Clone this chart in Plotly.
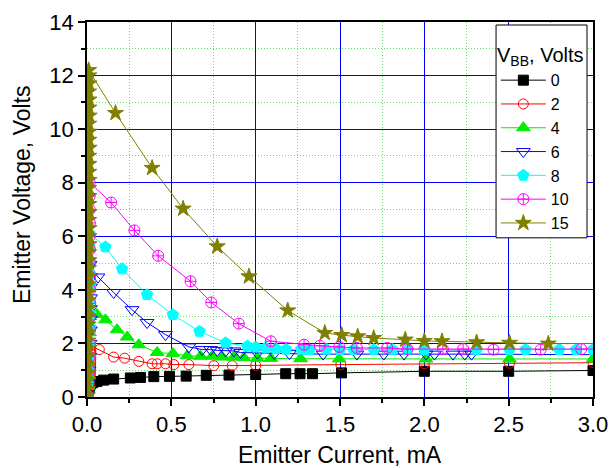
import plotly.graph_objects as go

# ---------------- data ----------------
legend_names = ["0", "2", "4", "6", "8", "10", "15"]

x_0 = [0.003, 0.006, 0.010, 0.015, 0.022, 0.035, 0.059, 0.099, 0.158, 0.257, 0.317, 0.396,
       0.489, 0.588, 0.707, 0.842, 1.0, 1.178, 1.263, 1.337, 1.509, 2.0, 2.5, 3.0]
y_0 = [0.05, 0.15, 0.28, 0.40, 0.48, 0.54, 0.58, 0.63, 0.67, 0.71, 0.73, 0.76,
       0.77, 0.78, 0.81, 0.82, 0.84, 0.87, 0.87, 0.87, 0.90, 0.96, 0.96, 0.99]

x_2 = [0.004, 0.008, 0.012, 0.015, 0.017, 0.018, 0.019, 0.020, 0.020, 0.021, 0.021, 0.022,
       0.022, 0.022, 0.023, 0.023, 0.023, 0.020, 0.012,
       0.073, 0.158, 0.223, 0.307, 0.386, 0.416, 0.465, 0.515, 0.604, 0.752, 0.861, 1.0,
       1.505, 2.0, 2.505, 3.0]
y_2 = [0.05, 0.2, 0.35, 0.5, 0.6, 0.7, 0.8, 0.9, 1.0, 1.1, 1.2, 1.3,
       1.4, 1.5, 1.6, 1.7, 1.8, 1.9, 1.95,
       1.77, 1.49, 1.45, 1.33, 1.24, 1.24, 1.24, 1.21, 1.21, 1.17, 1.17, 1.18,
       1.21, 1.24, 1.26, 1.28]

x_4 = [0.004, 0.008, 0.010, 0.012, 0.013, 0.014, 0.015, 0.016, 0.017, 0.018,
       0.059, 0.109, 0.178, 0.238, 0.307, 0.416, 0.509, 0.594, 0.673, 0.743, 0.802,
       0.871, 0.930, 1.010, 1.090, 1.267, 1.495, 2.010, 2.505, 3.0]
y_4 = [0.05, 0.4, 0.8, 1.2, 1.6, 2.0, 2.4, 2.7, 3.0, 3.2,
       3.08, 2.88, 2.51, 2.24, 1.95, 1.66, 1.62, 1.54, 1.52, 1.52, 1.49,
       1.49, 1.47, 1.45, 1.44, 1.43, 1.42, 1.42, 1.42, 1.42]

x_6 = [0.004, 0.008, 0.012, 0.015, 0.018, 0.020, 0.020, 0.021, 0.021, 0.021, 0.020, 0.018,
       0.065, 0.158, 0.267, 0.356, 0.465, 0.604, 0.683, 0.733, 0.772, 0.822, 0.871, 0.911,
       1.01, 1.11, 1.20, 1.40, 1.60, 1.76, 1.88, 2.01, 2.06, 2.17, 2.24, 2.28]
y_6 = [0.05, 0.5, 1.0, 1.5, 2.0, 2.5, 2.9, 3.3, 3.7, 4.1, 4.5, 4.95,
       4.48, 3.90, 3.26, 2.78, 2.33, 1.87, 1.77, 1.77, 1.74, 1.72, 1.72, 1.66,
       1.64, 1.62, 1.62, 1.60, 1.60, 1.60, 1.60, 1.60, 1.60, 1.60, 1.60, 1.60]
x_6_tail = [2.28, 3.0]
y_6_tail = [1.60, 1.58]

x_8 = [0.004, 0.008, 0.012, 0.015, 0.018, 0.020, 0.020, 0.019, 0.018, 0.017, 0.016, 0.015, 0.015,
       0.109, 0.208, 0.356, 0.509, 0.667, 0.822, 0.951, 1.00, 1.06, 1.12, 1.18, 1.27, 1.32,
       1.42, 1.50, 1.58, 1.70, 1.81, 1.90, 2.00, 2.31, 2.505, 2.60, 2.80, 2.90, 3.0]
y_8 = [0.05, 0.5, 1.0, 1.5, 2.0, 2.6, 3.1, 3.6, 4.1, 4.6, 5.1, 5.6, 6.1,
       5.60, 4.78, 3.82, 3.07, 2.45, 2.02, 1.90, 1.86, 1.83, 1.80, 1.78, 1.78, 1.76,
       1.78, 1.77, 1.77, 1.77, 1.77, 1.77, 1.77, 1.77, 1.77, 1.77, 1.77, 1.77, 1.77]

x_10 = [0.004, 0.008, 0.012, 0.015, 0.017, 0.018, 0.019, 0.019, 0.019, 0.019, 0.018, 0.018, 0.017,
        0.017, 0.016, 0.016, 0.016,
        0.143, 0.281, 0.422, 0.614, 0.737, 0.900, 1.090, 1.287, 1.380, 1.495, 1.600, 1.780,
        1.900, 2.110, 2.230, 2.410, 2.690, 2.930]
y_10 = [0.05, 0.5, 1.0, 1.5, 2.0, 2.5, 3.0, 3.5, 4.0, 4.5, 5.0, 5.5, 6.0,
        6.5, 7.0, 7.5, 8.0,
        7.26, 6.22, 5.27, 4.32, 3.53, 2.74, 2.08, 1.95, 1.91, 1.87, 1.83, 1.83,
        1.79, 1.79, 1.79, 1.77, 1.77, 1.79]
x_10_tail = [2.93, 3.0]
y_10_tail = [1.79, 1.79]

x_15 = [0.002, 0.004, 0.003, 0.005, 0.004, 0.006, 0.005, 0.006, 0.005, 0.007, 0.006, 0.008,
        0.007, 0.009, 0.008, 0.010, 0.009, 0.011, 0.010, 0.012, 0.011, 0.012, 0.010, 0.013,
        0.011, 0.012, 0.010, 0.013, 0.011, 0.012, 0.010, 0.013, 0.011, 0.012, 0.010, 0.013,
        0.011, 0.012, 0.010, 0.012, 0.011, 0.010,
        0.169, 0.386, 0.570, 0.772, 0.960, 1.190, 1.410, 1.510, 1.605, 1.700, 1.887, 2.000,
        2.105, 2.310, 2.505, 2.735]
y_15 = [0.05, 0.3, 0.6, 0.9, 1.2, 1.5, 1.8, 2.1, 2.4, 2.7, 3.0, 3.3,
        3.6, 3.9, 4.2, 4.5, 4.8, 5.1, 5.4, 5.7, 6.0, 6.3, 6.6, 6.9,
        7.2, 7.5, 7.8, 8.1, 8.4, 8.7, 9.0, 9.3, 9.6, 9.9, 10.2, 10.5,
        10.8, 11.1, 11.4, 11.7, 12.0, 12.2,
        10.60, 8.55, 7.03, 5.62, 4.50, 3.23, 2.39, 2.31, 2.26, 2.20, 2.14, 2.09,
        2.08, 2.04, 2.02, 1.99]
x_15_tail = [2.735, 3.0]
y_15_tail = [1.99, 2.00]

x_ticks = [0.0, 0.5, 1.0, 1.5, 2.0, 2.5, 3.0]
y_ticks = [0, 2, 4, 6, 8, 10, 12, 14]

# ---------------- styles ----------------
FONT = "Arial, Liberation Sans, sans-serif"
colors = ["#000000", "#FF0000", "#00EE00", "#0000FF", "#00FFFF", "#FF00FF", "#808000"]
symbols = ["square", "circle-open", "triangle-up", "triangle-down-open",
           "pentagon", "circle-cross-open", "star"]
sizes = [10, 10, 12, 12, 12, 11, 12]

series = [(x_0, y_0, None, None), (x_2, y_2, None, None), (x_4, y_4, None, None),
          (x_6, y_6, x_6_tail, y_6_tail), (x_8, y_8, None, None),
          (x_10, y_10, x_10_tail, y_10_tail), (x_15, y_15, x_15_tail, y_15_tail)]

fig = go.Figure()
for i, (xs, ys, xt, yt) in enumerate(series):
    if xt is not None:
        fig.add_trace(go.Scatter(x=xt, y=yt, mode="lines", showlegend=False,
                                 line=dict(color=colors[i], width=1), hoverinfo="skip"))
    fig.add_trace(go.Scatter(
        x=xs, y=ys, mode="lines+markers", name=legend_names[i],
        line=dict(color=colors[i], width=1),
        marker=dict(symbol=symbols[i], size=sizes[i], color=colors[i],
                    line=dict(color=colors[i], width=1)),
    ))

axis_common = dict(
    showline=True, linecolor="black", linewidth=1.5, mirror=True,
    ticks="outside", ticklen=7, tickwidth=1.5, tickcolor="black",
    showgrid=True, gridcolor="#0000FF", gridwidth=1, zeroline=False,
    tickfont=dict(family=FONT, size=22, color="black"),
    automargin=False,
)
minor_grid = dict(ticks="outside", ticklen=4, tickcolor="black",
                  showgrid=True, gridcolor="#66DD66", griddash="1px,2px", gridwidth=1)

fig.update_xaxes(range=[0, 3.0], tickvals=x_ticks, ticktext=[f"{v:.1f}" for v in x_ticks],
                 minor=dict(dtick=0.25, **minor_grid), **axis_common)
fig.update_yaxes(range=[0, 14], tickvals=y_ticks, ticktext=[str(v) for v in y_ticks],
                 minor=dict(dtick=1, **minor_grid), **axis_common)

fig.update_layout(
    width=610, height=468,
    margin=dict(l=87, r=17, t=22, b=71, autoexpand=False),
    paper_bgcolor="white", plot_bgcolor="white",
    font=dict(family=FONT, color="black"),
    legend=dict(
        font=dict(family=FONT, size=16),
        x=0.808, y=0.890, xanchor="left", yanchor="top",
        bgcolor="rgba(0,0,0,0)", borderwidth=0,
        itemwidth=45, tracegroupgap=0,
    ),
    shapes=[
        dict(type="rect", xref="paper", yref="paper", x0=0.8084, x1=0.9882,
             y0=0.4245, y1=0.992, fillcolor="white", line=dict(color="black", width=1),
             layer="above"),
    ],
    annotations=[
        dict(text="V<sub>BB</sub>, Volts", xref="paper", yref="paper", x=0.897, y=0.909,
             xanchor="center", yanchor="middle", showarrow=False,
             font=dict(family=FONT, size=20, color="black")),
        dict(text="Emitter Current, mA", xref="paper", yref="paper", x=0.5, y=-0.155,
             xanchor="center", yanchor="middle", showarrow=False,
             font=dict(family=FONT, size=23, color="black")),
        dict(text="Emitter Voltage, Volts", xref="paper", yref="paper", x=-0.128, y=0.539,
             xanchor="center", yanchor="middle", showarrow=False, textangle=-90,
             font=dict(family=FONT, size=23, color="black")),
    ],
)

fig.write_html("out.html")
